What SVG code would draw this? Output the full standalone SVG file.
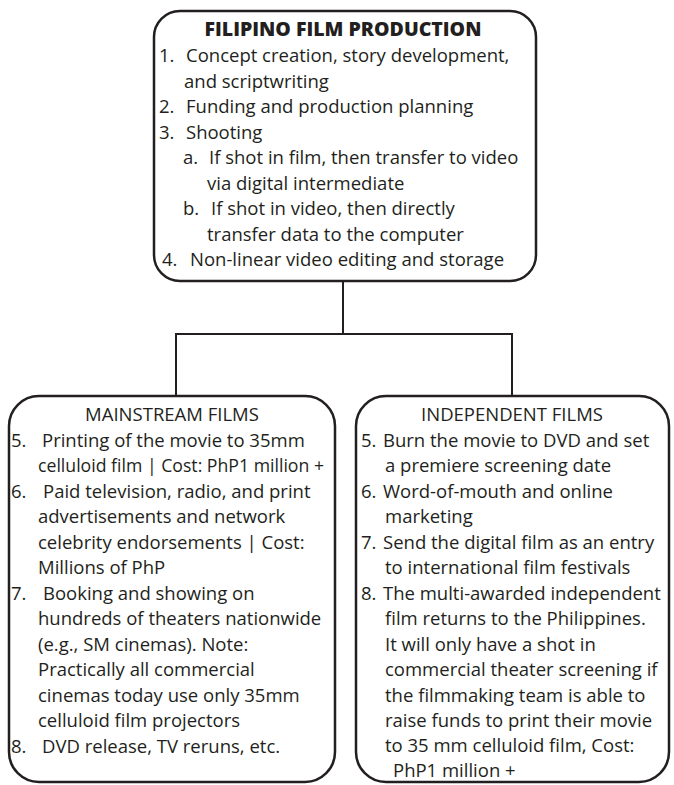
<svg xmlns="http://www.w3.org/2000/svg" width="674" height="785" viewBox="0 0 674 785">
<style>
.box{fill:#fff;stroke:#231f20;stroke-width:2.5}
.conn{fill:none;stroke:#231f20;stroke-width:2}
text{font-family:"Open Sans","Liberation Sans",sans-serif;font-size:18.5px;fill:#231f20}
.title{font-weight:800;font-size:19.5px;text-anchor:middle}
.hd{text-anchor:middle}
</style>
<rect width="674" height="785" fill="#fff"/>
<g id="connectors">
<path class="conn" d="M343,281 V334 M176,334 H512 M176,333 V396 M512,333 V396"/>
</g>
<g id="production">
<rect class="box" x="154" y="11" width="382" height="270" rx="26" ry="26"/>
<text class="title" x="343" y="36">FILIPINO FILM PRODUCTION</text>
<text x="159" y="62">1.</text><text x="186" y="62">Concept creation, story development,</text>
<text x="184" y="88">and scriptwriting</text>
<text x="159" y="113">2.</text><text x="186" y="113">Funding and production planning</text>
<text x="159" y="139">3.</text><text x="186" y="139">Shooting</text>
<text x="183" y="164">a.</text><text x="209" y="164">If shot in film, then transfer to video</text>
<text x="207" y="190">via digital intermediate</text>
<text x="183" y="215">b.</text><text x="211" y="215">If shot in video, then directly</text>
<text x="207" y="241">transfer data to the computer</text>
<text x="162" y="266">4.</text><text x="190" y="266">Non-linear video editing and storage</text>
</g>
<g id="mainstream">
<rect class="box" x="9" y="396" width="326" height="386" rx="30" ry="30"/>
<text class="hd" x="172" y="421">MAINSTREAM FILMS</text>
<text x="11" y="447">5.</text><text x="42" y="447">Printing of the movie to 35mm</text>
<text x="38" y="472" textLength="286" lengthAdjust="spacingAndGlyphs">celluloid film | Cost: PhP1 million +</text>
<text x="11" y="498">6.</text><text x="43" y="498">Paid television, radio, and print</text>
<text x="38" y="523">advertisements and network</text>
<text x="38" y="549">celebrity endorsements | Cost:</text>
<text x="38" y="574">Millions of PhP</text>
<text x="11" y="600">7.</text><text x="43" y="600">Booking and showing on</text>
<text x="38" y="625">hundreds of theaters nationwide</text>
<text x="38" y="651">(e.g., SM cinemas). Note:</text>
<text x="38" y="676">Practically all commercial</text>
<text x="38" y="702">cinemas today use only 35mm</text>
<text x="38" y="727">celluloid film projectors</text>
<text x="11" y="753">8.</text><text x="42" y="753">DVD release, TV reruns, etc.</text>
</g>
<g id="independent">
<rect class="box" x="356" y="396" width="313" height="386" rx="30" ry="30"/>
<text class="hd" x="512" y="421">INDEPENDENT FILMS</text>
<text x="361" y="447">5.</text><text x="383" y="447">Burn the movie to DVD and set</text>
<text x="385" y="472">a premiere screening date</text>
<text x="361" y="498">6.</text><text x="383" y="498">Word-of-mouth and online</text>
<text x="385" y="523">marketing</text>
<text x="361" y="549">7.</text><text x="383" y="549">Send the digital film as an entry</text>
<text x="385" y="574">to international film festivals</text>
<text x="361" y="600">8.</text><text x="383" y="600">The multi-awarded independent</text>
<text x="385" y="625">film returns to the Philippines.</text>
<text x="385" y="651">It will only have a shot in</text>
<text x="385" y="676">commercial theater screening if</text>
<text x="385" y="702">the filmmaking team is able to</text>
<text x="385" y="727">raise funds to print their movie</text>
<text x="385" y="752">to 35 mm celluloid film, Cost:</text>
<text x="393" y="777">PhP1 million +</text>
</g>
</svg>
